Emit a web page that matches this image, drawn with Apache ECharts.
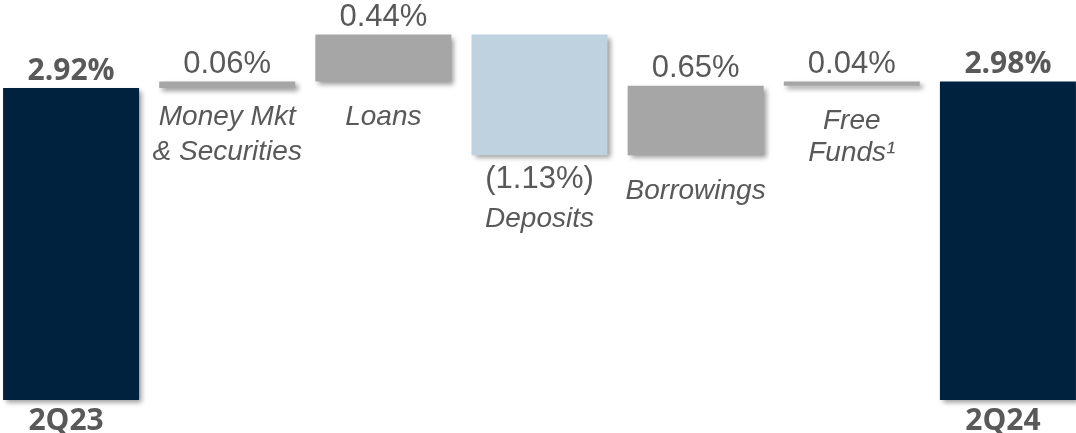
<!DOCTYPE html>
<html>
<head>
<meta charset="utf-8">
<script src="https://cdn.jsdelivr.net/npm/echarts@6/dist/echarts.min.js"></script>
<style>
  html, body { margin: 0; padding: 0; background: #ffffff; overflow: hidden; }
  /* the outer bars are cropped slightly by the page edges */
  #chart { width: 1093px; height: 433px; margin-left: -7px; }
</style>
</head>
<body>
<div id="chart"></div>
<script>
// Net interest margin bridge, 2Q23 to 2Q24
const categories = ['2Q23', 'Money Mkt\n& Securities', 'Loans', 'Deposits', 'Borrowings', 'Free\nFunds¹', '2Q24'];
const startValue = 2.92;
const changes = [0.06, 0.44, -1.13, 0.65, 0.04];
const endValue = 2.98;

// Colours
const NAVY = '#01223f';
const GREY_BAR = '#a6a6a6';
const BLUE_BAR = '#bfd2e0';
const TEXT = '#595959';

// Gap (px) between the bottom of each change bar and its caption
const captionGap = [0, 12, 19, 6, 19, 19, 0];
// Line height of the two-line captions
const captionLine = [0, 35, 34, 44, 34, 32, 0];

const shadow = {
  shadowColor: 'rgba(0,0,0,0.4)',
  shadowBlur: 5,
  shadowOffsetX: 3,
  shadowOffsetY: 3
};

function fmt(v) {
  return v < 0 ? '(' + Math.abs(v).toFixed(2) + '%)' : v.toFixed(2) + '%';
}

// Build invisible base and visible floating segments
const baseData = [];
const barData = [];

baseData.push({ value: 0, label: { show: false } });
barData.push({
  value: startValue,
  itemStyle: Object.assign({ color: NAVY }, shadow),
  label: {
    show: true, position: 'top', distance: 2,
    formatter: fmt(startValue),
    fontFamily: 'Open Sans', fontWeight: 'bold', fontSize: 30, color: TEXT
  }
});

let level = startValue;
changes.forEach((c, i) => {
  const idx = i + 1;
  const next = level + c;
  const lo = Math.min(level, next);
  const negative = c < 0;
  const name = categories[idx];
  baseData.push({
    value: lo,
    label: {
      show: true,
      position: 'insideTop',
      distance: captionGap[idx],
      formatter: negative
        ? '{v|' + fmt(c) + '}\n{n|' + name + '}'
        : name.split('\n').map(s => '{n|' + s + '}').join('\n'),
      rich: {
        v: { fontFamily: 'Liberation Sans', fontSize: 31, color: TEXT, lineHeight: 36 },
        n: { fontFamily: 'Liberation Sans', fontStyle: 'italic', fontSize: 28, color: TEXT, lineHeight: captionLine[idx] }
      }
    }
  });
  barData.push({
    value: Math.abs(c),
    itemStyle: Object.assign({ color: negative ? BLUE_BAR : GREY_BAR }, shadow),
    label: negative ? { show: false } : {
      show: true, position: 'top', distance: 2,
      formatter: fmt(c),
      fontFamily: 'Liberation Sans', fontSize: 31, color: TEXT
    }
  });
  level = next;
});

baseData.push({ value: 0, label: { show: false } });
barData.push({
  value: endValue,
  itemStyle: Object.assign({ color: NAVY }, shadow),
  label: {
    show: true, position: 'top', distance: 2,
    formatter: fmt(endValue),
    fontFamily: 'Open Sans', fontWeight: 'bold', fontSize: 30, color: TEXT
  }
});

const chart = echarts.init(document.getElementById('chart'), null, { renderer: 'canvas' });
chart.setOption({
  animation: false,
  backgroundColor: '#ffffff',
  grid: { left: 0, right: 0, top: 4.6, bottom: 33, containLabel: false, outerBoundsMode: 'none' },
  xAxis: {
    type: 'category',
    data: categories,
    axisLine: { show: false },
    axisTick: { show: false },
    axisLabel: {
      interval: 0,
      margin: 6,
      formatter: (v, i) => (i === 0 || i === categories.length - 1) ? v : '',
      fontFamily: 'Open Sans', fontWeight: 'bold', fontSize: 30, color: TEXT,
      padding: [0, 10, 0, 0]
    }
  },
  yAxis: { type: 'value', min: 0, max: 3.7, show: false, splitLine: { show: false } },
  series: [
    {
      type: 'bar', stack: 'bridge', barWidth: 136,
      itemStyle: { color: 'rgba(0,0,0,0)' },
      emphasis: { disabled: true },
      data: baseData,
      z: 3
    },
    {
      type: 'bar', stack: 'bridge', barWidth: 136,
      emphasis: { disabled: true },
      data: barData,
      z: 2
    }
  ]
});
</script>
</body>
</html>
